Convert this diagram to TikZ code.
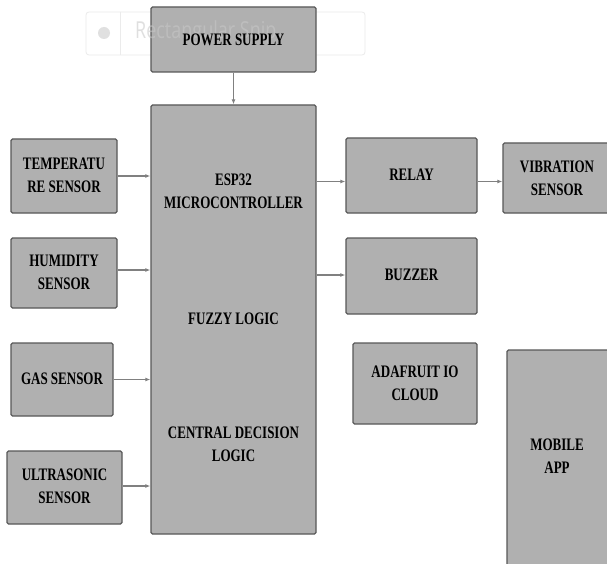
\documentclass[tikz,border=0pt]{standalone}
\usepackage{fontspec}
\setmainfont{Liberation Serif}
\newfontfamily\wmfont{Open Sans}
\usetikzlibrary{calc,arrows.meta}
\definecolor{boxfill}{RGB}{176,176,176}
\definecolor{boxline}{RGB}{88,88,88}
\definecolor{arr}{RGB}{128,128,128}
\definecolor{wmcol}{RGB}{200,200,200}
\newcommand{\blab}[1]{\scalebox{1}[1.35]{\begin{tabular}{@{}c@{}}#1\end{tabular}}}
\tikzset{
  blk/.style={draw=boxline, fill=boxfill, line width=1.3pt, rounded corners=1.5pt,
    inner sep=0pt, anchor=center},
  lbl/.style={inner sep=0pt, anchor=center, font=\bfseries\fontsize{13}{17}\selectfont},
  conn/.style={draw=arr, line width=1.1pt, -{Latex[length=5pt,width=4pt]}},
}
\begin{document}
\begin{tikzpicture}[x=1pt, y=-1pt]
\useasboundingbox (0,0) rectangle (607,564);
\clip (0,0) rectangle (607,564);
\fill[white] (0,0) rectangle (607,564);
% watermark frame (screen-capture residue)
\draw[draw=black!8, line width=0.8pt, rounded corners=3pt] (86,12) rectangle (365,55);
\draw[draw=black!8, line width=0.8pt] (120,12) -- (120,55);
\fill[black!12] (104,33) circle (6);
% boxes
\node[blk, minimum width=165, minimum height=65] (pwr) at (233.5,39.5) {};
% watermark text, semi-transparent over the box
\node[anchor=west, inner sep=0pt, text=wmcol, text opacity=0.57,
  font=\wmfont\fontsize{18}{20}\selectfont] (wm) at (135,32) {\scalebox{1}[1.3]{Rectangular Snip}};
\node[lbl] (pwrt) at (233.5,41) {\blab{POWER SUPPLY}};
\node[blk, minimum width=165, minimum height=429] (esp) at (233.5,319.5) {};
\node[lbl] (esp1) at (233.5,192) {\blab{ESP32\\MICROCONTROLLER}};
\node[lbl] (esp2) at (233.5,320) {\blab{FUZZY LOGIC}};
\node[lbl] (esp3) at (233.5,445) {\blab{CENTRAL DECISION\\LOGIC}};
\node[blk, minimum width=106, minimum height=74] (temp) at (64,176) {};
\node[lbl] at (temp.center) {\blab{TEMPERATU\\RE SENSOR}};
\node[blk, minimum width=106, minimum height=70] (hum) at (64,273) {};
\node[lbl] at (hum.center) {\blab{HUMIDITY\\SENSOR}};
\node[blk, minimum width=102, minimum height=73] (gas) at (62,379.5) {};
\node[lbl] at (gas.center) {\blab{GAS SENSOR}};
\node[blk, minimum width=115, minimum height=73] (ultra) at (64.5,487.5) {};
\node[lbl] at (ultra.center) {\blab{ULTRASONIC\\SENSOR}};
\node[blk, minimum width=131, minimum height=75] (relay) at (411.5,175.5) {};
\node[lbl] at (relay.center) {\blab{RELAY}};
\node[blk, minimum width=106, minimum height=70] (vib) at (556,178) {};
\node[lbl] at (557,179.5) {\blab{VIBRATION\\SENSOR}};
\node[blk, minimum width=131, minimum height=76] (buzz) at (411.5,276) {};
\node[lbl] at (buzz.center) {\blab{BUZZER}};
\node[blk, minimum width=124, minimum height=81] (ada) at (415,383.5) {};
\node[lbl] at (415,384) {\blab{ADAFRUIT IO\\CLOUD}};
\node[blk, minimum width=102, minimum height=220] (mob) at (558,460) {};
\node[lbl] at (557,457) {\blab{MOBILE\\APP}};
% connectors
\draw[conn] (pwr.south) -- (esp.north);
\draw[conn] (temp.east) -- (temp.east -| esp.west);
\draw[conn] ($(hum.east)+(0,-3)$) -- ($(hum.east -| esp.west)+(0,-3)$);
\draw[conn] (gas.east) -- (gas.east -| esp.west);
\draw[conn] ($(ultra.east)+(0,-1.5)$) -- ($(ultra.east -| esp.west)+(0,-1.5)$);
\coordinate (ry) at ($(relay.west)+(0,6)$);
\draw[conn] (ry -| esp.east) -- (ry);
\draw[conn] (ry -| relay.east) -- (ry -| vib.west);
\draw[conn] ($(buzz.west -| esp.east)+(0,-1)$) -- ($(buzz.west)+(0,-1)$);
\end{tikzpicture}
\end{document}
